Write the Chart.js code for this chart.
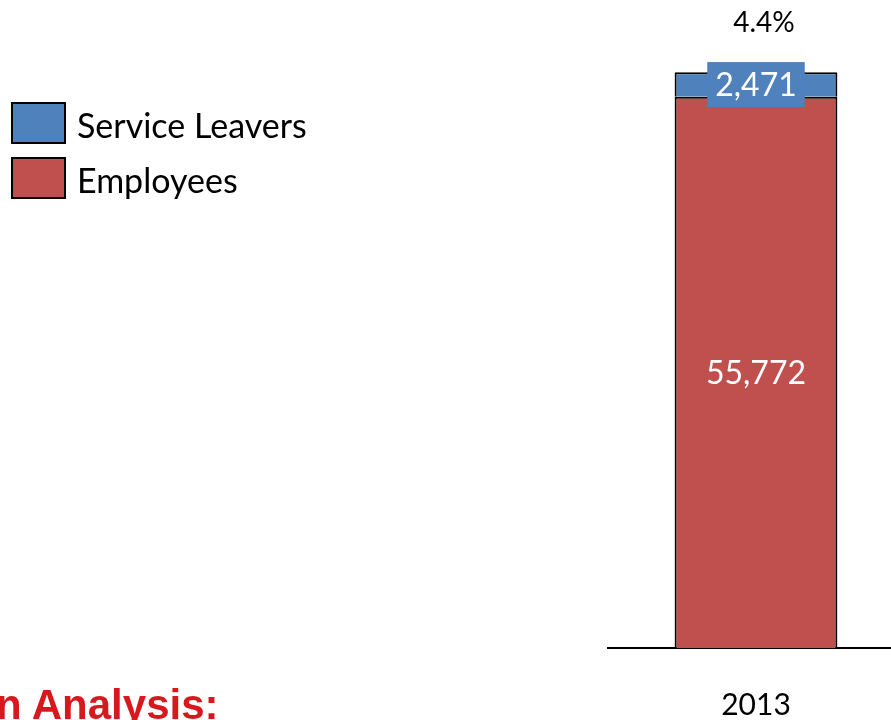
<!DOCTYPE html>
<html>
<head>
<meta charset="utf-8">
<script src="https://cdn.jsdelivr.net/npm/chart.js@4/dist/chart.umd.min.js"></script>
<style>
  html, body { margin: 0; padding: 0; background: #fff; overflow: hidden; width: 891px; height: 720px; }
  #c { position: absolute; left: 0; top: 0; }
  #note { position: absolute; left: -4px; top: 684px; font: bold 42px/42px "Liberation Sans", Arial, sans-serif; color: #D7191F; white-space: nowrap; }
</style>
</head>
<body>
<canvas id="c" width="910" height="762"></canvas>
<div id="note">n Analysis:</div>
<script>
// Headcount by year, split into employees and service leavers
const categories = ['2013'];
const employees = [55772];
const serviceLeavers = [2471];
const seriesNames = ['Employees', 'Service Leavers'];
const seriesColors = ['#C0504D', '#4F81BD'];

const fmt = v => v.toLocaleString('en-US');
const FONT = 'Lato, "Open Sans", sans-serif';

// Value labels inside each segment, plus leavers-to-employees ratio above the stack
const barLabels = {
  id: 'barLabels',
  afterDatasetsDraw(chart) {
    const ctx = chart.ctx;
    ctx.save();
    ctx.textAlign = 'center';
    ctx.textBaseline = 'middle';
    chart.data.datasets.forEach((ds, i) => {
      const meta = chart.getDatasetMeta(i);
      meta.data.forEach((bar, j) => {
        const { x, y, base } = bar.getProps(['x', 'y', 'base'], true);
        const cy = (y + base) / 2;
        const txt = fmt(ds.data[j]);
        ctx.font = '32px ' + FONT;
        if (ds.labelBox) {
          const w = ctx.measureText(txt).width + 16;
          ctx.fillStyle = ds.backgroundColor;
          ctx.fillRect(x - w / 2, cy - 22.5, w, 45);
        }
        ctx.fillStyle = '#ffffff';
        ctx.fillText(txt, x, cy + 1);
      });
    });
    const top = chart.getDatasetMeta(chart.data.datasets.length - 1);
    top.data.forEach((bar, j) => {
      const pct = (serviceLeavers[j] / employees[j] * 100).toFixed(1) + '%';
      ctx.font = '28px ' + FONT;
      ctx.fillStyle = '#000000';
      ctx.fillText(pct, bar.x + 8, bar.y - 49);
    });
    ctx.restore();
  }
};

// Legend drawn as large bordered swatches at the top left, top series first
const sideLegend = {
  id: 'sideLegend',
  afterDraw(chart) {
    const ctx = chart.ctx;
    ctx.save();
    const items = chart.data.datasets.slice().reverse();
    items.forEach((ds, k) => {
      const bx = 12, by = 103 + k * 55, bw = 53, bh = 40;
      ctx.fillStyle = ds.backgroundColor;
      ctx.fillRect(bx, by, bw, bh);
      ctx.strokeStyle = '#000000';
      ctx.lineWidth = 2;
      ctx.strokeRect(bx, by, bw, bh);
      ctx.fillStyle = '#000000';
      ctx.font = '34px ' + FONT;
      ctx.textAlign = 'left';
      ctx.textBaseline = 'middle';
      ctx.fillText(ds.label, 77, by + bh / 2 + 4);
    });
    ctx.restore();
  }
};

new Chart(document.getElementById('c'), {
  type: 'bar',
  data: {
    labels: categories,
    datasets: [
      { label: seriesNames[0], data: employees, backgroundColor: seriesColors[0] },
      { label: seriesNames[1], data: serviceLeavers, backgroundColor: seriesColors[1], labelBox: true }
    ].map(d => Object.assign({
      borderColor: '#000000',
      borderWidth: 2,
      barPercentage: 0.55,
      categoryPercentage: 1
    }, d))
  },
  options: {
    responsive: false,
    animation: false,
    layout: { padding: { left: 608, right: 6, top: 55, bottom: 0 } },
    plugins: { legend: { display: false }, tooltip: { enabled: false } },
    scales: {
      x: {
        stacked: true,
        grid: { display: false, drawTicks: false },
        border: { display: true, color: '#000000', width: 2 },
        ticks: { color: '#000000', font: { family: FONT, size: 30 }, padding: 39 }
      },
      y: {
        stacked: true,
        display: false,
        min: 0,
        max: 60000
      }
    }
  },
  plugins: [barLabels, sideLegend]
});
</script>
</body>
</html>
